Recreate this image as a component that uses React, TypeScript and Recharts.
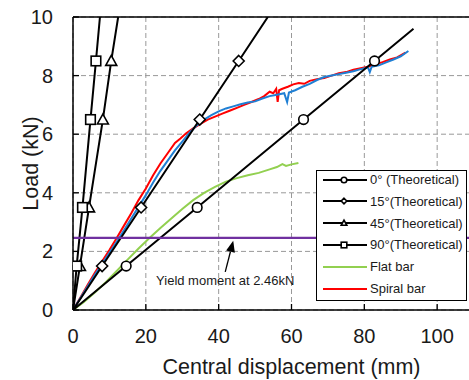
import React from "react";
import {
  LineChart,
  Line,
  XAxis,
  YAxis,
  CartesianGrid,
  ReferenceLine,
} from "recharts";

const FONT = "'Liberation Sans', Arial, sans-serif";
const TEXT = "#1a1a1a";

const X_TICKS = [0, 20, 40, 60, 80, 100];
const Y_TICKS = [0, 2, 4, 6, 8, 10];
const YIELD_LOAD = 2.46;
const YIELD_LABEL = "Yield moment at 2.46kN";
// arrow tail / tip in data units (mm, kN)
const ARROW = [
  { x: 41.8, y: 1.3 },
  { x: 44.0, y: 2.36 },
];

// theoretical load-displacement lines, marker at every inner point
const theory0 = [
  { d: 0, load: 0 },
  { d: 14.6, load: 1.5 },
  { d: 34.1, load: 3.5 },
  { d: 63.3, load: 6.5 },
  { d: 82.8, load: 8.5 },
  { d: 93.5, load: 9.6 },
];
const theory15 = [
  { d: 0, load: 0 },
  { d: 8.0, load: 1.5 },
  { d: 18.7, load: 3.5 },
  { d: 34.8, load: 6.5 },
  { d: 45.5, load: 8.5 },
  { d: 53.5, load: 10 },
];
const theory45 = [
  { d: 0, load: 0 },
  { d: 1.9, load: 1.5 },
  { d: 4.4, load: 3.5 },
  { d: 8.2, load: 6.5 },
  { d: 10.5, load: 8.5 },
  { d: 12.4, load: 10 },
];
const theory90 = [
  { d: 0, load: 0 },
  { d: 1.0, load: 1.5 },
  { d: 2.6, load: 3.5 },
  { d: 4.8, load: 6.5 },
  { d: 6.3, load: 8.5 },
  { d: 7.4, load: 10 },
];

// test records
const flatBar = [
  { d: 0, load: 0 }, { d: 3, load: 0.27 }, { d: 6, load: 0.6 }, { d: 9, load: 0.95 },
  { d: 12, load: 1.33 }, { d: 15, load: 1.72 }, { d: 18, load: 2.1 }, { d: 21, load: 2.46 },
  { d: 24, load: 2.8 }, { d: 27, load: 3.12 }, { d: 30, load: 3.45 }, { d: 33, load: 3.75 },
  { d: 36, load: 4.0 }, { d: 39, load: 4.2 }, { d: 42, load: 4.38 }, { d: 45, load: 4.5 },
  { d: 48, load: 4.6 }, { d: 51, load: 4.68 }, { d: 54, load: 4.8 }, { d: 56, load: 4.88 },
  { d: 57.5, load: 4.98 }, { d: 58.5, load: 4.92 }, { d: 60, load: 4.97 }, { d: 61.9, load: 5.02 },
];
const spiralBar = [
  { d: 0, load: 0 }, { d: 2, load: 0.42 }, { d: 4, load: 0.85 }, { d: 6, load: 1.27 },
  { d: 8, load: 1.66 }, { d: 10, load: 2.05 }, { d: 12, load: 2.46 }, { d: 14, load: 2.88 },
  { d: 16, load: 3.3 }, { d: 18, load: 3.75 }, { d: 20, load: 4.15 }, { d: 22, load: 4.6 },
  { d: 24, load: 5.0 }, { d: 26, load: 5.35 }, { d: 28, load: 5.7 }, { d: 29.5, load: 5.85 },
  { d: 31, load: 6.02 }, { d: 33, load: 6.2 }, { d: 35, load: 6.35 }, { d: 37, load: 6.5 },
  { d: 39, load: 6.6 }, { d: 41, load: 6.7 }, { d: 43, load: 6.8 }, { d: 45, load: 6.9 },
  { d: 47, load: 7.0 }, { d: 49, load: 7.1 }, { d: 51, load: 7.2 }, { d: 52.5, load: 7.3 },
  { d: 54, load: 7.45 }, { d: 55, load: 7.4 }, { d: 55.8, load: 7.55 }, { d: 56.2, load: 7.1 },
  { d: 56.6, load: 7.5 }, { d: 57.5, load: 7.55 }, { d: 59, load: 7.62 }, { d: 60.5, load: 7.7 },
  { d: 62, load: 7.75 }, { d: 63.5, load: 7.72 }, { d: 65, load: 7.82 }, { d: 67, load: 7.88 },
  { d: 69, load: 7.92 }, { d: 71, load: 8.0 }, { d: 73, load: 8.08 }, { d: 75, load: 8.12 },
  { d: 77, load: 8.2 }, { d: 79, load: 8.25 }, { d: 81, load: 8.3 }, { d: 83, load: 8.38 },
  { d: 85, load: 8.46 }, { d: 87, load: 8.55 }, { d: 89, load: 8.62 }, { d: 91.3, load: 8.78 },
];
const spiralBar2 = [
  { d: 0, load: 0 }, { d: 2, load: 0.4 }, { d: 4, load: 0.8 }, { d: 6, load: 1.2 },
  { d: 8, load: 1.58 }, { d: 10, load: 1.95 }, { d: 12, load: 2.33 }, { d: 14, load: 2.72 },
  { d: 16, load: 3.12 }, { d: 18, load: 3.52 }, { d: 20, load: 3.92 }, { d: 22, load: 4.35 },
  { d: 24, load: 4.75 }, { d: 26, load: 5.1 }, { d: 28, load: 5.45 }, { d: 30, load: 5.75 },
  { d: 32, load: 6.05 }, { d: 34, load: 6.3 }, { d: 36, load: 6.5 }, { d: 38, load: 6.65 },
  { d: 40, load: 6.78 }, { d: 42, load: 6.88 }, { d: 44, load: 6.95 }, { d: 46, load: 7.02 },
  { d: 48, load: 7.08 }, { d: 50, load: 7.12 }, { d: 52, load: 7.22 }, { d: 54, load: 7.3 },
  { d: 56, load: 7.35 }, { d: 58, load: 7.4 }, { d: 58.8, load: 7.1 }, { d: 59.3, load: 7.42 },
  { d: 61, load: 7.5 }, { d: 63, load: 7.62 }, { d: 65, load: 7.72 }, { d: 67, load: 7.85 },
  { d: 69, load: 7.95 }, { d: 71, load: 8.0 }, { d: 73, load: 8.05 }, { d: 75, load: 8.1 },
  { d: 77, load: 8.15 }, { d: 79, load: 8.22 }, { d: 81, load: 8.28 }, { d: 81.5, load: 8.12 },
  { d: 82, load: 8.3 }, { d: 84, load: 8.35 }, { d: 86, load: 8.45 }, { d: 88, load: 8.55 },
  { d: 90, load: 8.66 }, { d: 92.1, load: 8.84 },
];

const LEGEND_ITEMS = [
  { name: "0° (Theoretical)", color: "#000", shape: "circle" },
  { name: "15°(Theoretical)", color: "#000", shape: "diamond" },
  { name: "45°(Theoretical)", color: "#000", shape: "triangle" },
  { name: "90°(Theoretical)", color: "#000", shape: "square" },
  { name: "Flat bar", color: "#92d050", shape: "" },
  { name: "Spiral bar", color: "#ff0000", shape: "" },
];

function Marker({ shape, cx, cy, s }: { shape: string; cx: number; cy: number; s: number }) {
  const st = { fill: "#fff", stroke: "#000", strokeWidth: 1.6 };
  if (shape === "circle") return <circle cx={cx} cy={cy} r={s} {...st} />;
  if (shape === "diamond")
    return <polygon points={`${cx},${cy - s} ${cx + s},${cy} ${cx},${cy + s} ${cx - s},${cy}`} {...st} />;
  if (shape === "triangle")
    return <polygon points={`${cx},${cy - s} ${cx + s},${cy + s * 0.8} ${cx - s},${cy + s * 0.8}`} {...st} />;
  return <rect x={cx - s} y={cy - s} width={2 * s} height={2 * s} {...st} />;
}

// markers on the inner points only, not at origin or line end
const innerDots = (shape: string, count: number, s: number) => (p: any) => {
  if (p.index === 0 || p.index === count - 1) return <g key={p.index} />;
  return <Marker key={p.index} shape={shape} cx={p.cx} cy={p.cy} s={s} />;
};

const XTick = (p: any) => (
  <g>
    <line x1={p.x} y1={p.y} x2={p.x} y2={p.y - 6} stroke="#000" strokeWidth={1.3} />
    <text x={p.x} y={p.y + 33} textAnchor="middle" fontSize={20} fill={TEXT} fontFamily={FONT}>
      {p.payload.value}
    </text>
  </g>
);

const YTick = (p: any) => (
  <g>
    <line x1={p.x} y1={p.y} x2={p.x + 6} y2={p.y} stroke="#000" strokeWidth={1.3} />
    <text x={p.x - 20} y={p.y + 7} textAnchor="end" fontSize={20} fill={TEXT} fontFamily={FONT}>
      {p.payload.value}
    </text>
  </g>
);

const YieldArrow = (p: any) => {
  const { x1, y1, x2, y2 } = p;
  const ang = Math.atan2(y2 - y1, x2 - x1);
  const len = 11;
  const half = 4.5;
  const bx = x2 - len * Math.cos(ang);
  const by = y2 - len * Math.sin(ang);
  const nx = -Math.sin(ang) * half;
  const ny = Math.cos(ang) * half;
  return (
    <g>
      <line x1={x1} y1={y1} x2={bx} y2={by} stroke="#000" strokeWidth={1.3} />
      <polygon points={`${x2},${y2} ${bx + nx},${by + ny} ${bx - nx},${by - ny}`} fill="#000" />
      <text x={x1} y={y1 + 13} textAnchor="middle" fontSize={13} fill={TEXT} fontFamily={FONT}>
        {YIELD_LABEL}
      </text>
    </g>
  );
};

function LegendBox() {
  return (
    <div
      style={{
        position: "absolute",
        left: 316,
        top: 170,
        width: 151,
        height: 131,
        boxSizing: "border-box",
        border: "1.5px solid #000",
        background: "#fff",
        fontFamily: FONT,
        fontSize: 13,
        color: TEXT,
      }}
    >
      {LEGEND_ITEMS.map((it, i) => (
        <div
          key={it.name}
          style={{
            position: "absolute",
            left: 5,
            top: 0.5 + i * 21.8,
            height: 16,
            display: "flex",
            alignItems: "center",
            whiteSpace: "nowrap",
          }}
        >
          <svg width={46} height={16}>
            <line x1={1} y1={8} x2={45} y2={8} stroke={it.color} strokeWidth={2.2} />
            {it.shape && <Marker shape={it.shape} cx={22} cy={8} s={2.8} />}
          </svg>
          <span style={{ marginLeft: 2 }}>{it.name}</span>
        </div>
      ))}
    </div>
  );
}

export default function App() {
  return (
    <div
      style={{
        position: "absolute",
        left: 0,
        top: 0,
        width: 469,
        height: 380,
        overflow: "hidden",
        background: "#fff",
      }}
    >
      <LineChart width={510} height={380} margin={{ top: 17, right: 0, bottom: 0, left: 0 }}>
        <CartesianGrid stroke="#999" strokeDasharray="5 3" strokeWidth={1} />
        <XAxis
          type="number"
          dataKey="d"
          domain={[0, 120]}
          ticks={X_TICKS}
          allowDataOverflow
          height={70}
          axisLine={{ stroke: "#000", strokeWidth: 1.5 }}
          tickLine={false}
          tickSize={0}
          tickMargin={0}
          tick={XTick}
          label={{
            value: "Central displacement (mm)",
            position: "insideBottom",
            offset: 6,
            fontSize: 21.5,
            fill: TEXT,
            fontFamily: FONT,
          }}
        />
        <YAxis
          type="number"
          dataKey="load"
          domain={[0, 10]}
          ticks={Y_TICKS}
          allowDataOverflow
          width={73}
          axisLine={{ stroke: "#000", strokeWidth: 1.5 }}
          tickLine={false}
          tickSize={0}
          tickMargin={0}
          tick={YTick}
          label={{
            value: "Load (kN)",
            angle: -90,
            position: "insideLeft",
            offset: 30,
            fontSize: 21.5,
            fill: TEXT,
            fontFamily: FONT,
            style: { textAnchor: "middle" },
          }}
        />
        <ReferenceLine y={10} stroke="#000" strokeWidth={1.5} />
        <Line
          name="Flat bar"
          data={flatBar}
          dataKey="load"
          stroke="#92d050"
          strokeWidth={2}
          dot={false}
          activeDot={false}
          isAnimationActive={false}
        />
        <Line
          name="Spiral bar"
          data={spiralBar}
          dataKey="load"
          stroke="#ff0000"
          strokeWidth={2}
          dot={false}
          activeDot={false}
          isAnimationActive={false}
        />
        <Line
          name="Spiral bar 2"
          data={spiralBar2}
          dataKey="load"
          stroke="#1f7fd4"
          strokeWidth={2}
          dot={false}
          activeDot={false}
          isAnimationActive={false}
        />
        <Line
          name="0° (Theoretical)"
          data={theory0}
          dataKey="load"
          stroke="#000"
          strokeWidth={2}
          dot={innerDots("circle", theory0.length, 4.8)}
          activeDot={false}
          isAnimationActive={false}
        />
        <Line
          name="15°(Theoretical)"
          data={theory15}
          dataKey="load"
          stroke="#000"
          strokeWidth={2}
          dot={innerDots("diamond", theory15.length, 5.5)}
          activeDot={false}
          isAnimationActive={false}
        />
        <Line
          name="45°(Theoretical)"
          data={theory45}
          dataKey="load"
          stroke="#000"
          strokeWidth={2}
          dot={innerDots("triangle", theory45.length, 5.5)}
          activeDot={false}
          isAnimationActive={false}
        />
        <Line
          name="90°(Theoretical)"
          data={theory90}
          dataKey="load"
          stroke="#000"
          strokeWidth={2}
          dot={innerDots("square", theory90.length, 4.8)}
          activeDot={false}
          isAnimationActive={false}
        />
        <ReferenceLine y={YIELD_LOAD} stroke="#7030a0" strokeWidth={2.2} />
        <ReferenceLine segment={ARROW} shape={YieldArrow} />
      </LineChart>
      <LegendBox />
    </div>
  );
}
